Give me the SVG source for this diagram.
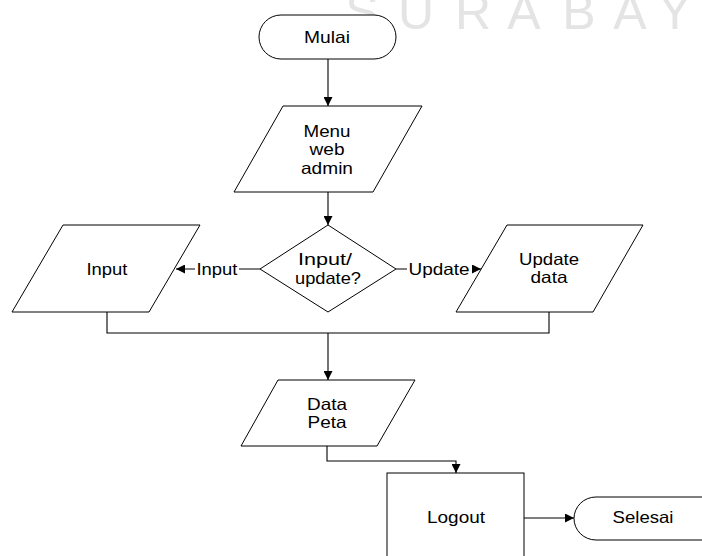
<svg xmlns="http://www.w3.org/2000/svg" width="702" height="556" viewBox="0 0 702 556">
  <defs>
    <marker id="arrow" viewBox="0 0 10 10" refX="10" refY="5" markerWidth="9" markerHeight="9" markerUnits="userSpaceOnUse" orient="auto">
      <path d="M0,0 L10,5 L0,10 Z" fill="#000"/>
    </marker>
    <style>
      .shape { fill: #fff; stroke: #000; stroke-width: 1; }
      .lbl { font-family: "Liberation Sans", Arial, sans-serif; font-size: 16.5px; fill: #000; text-anchor: middle; }
      .edge { fill: none; stroke: #000; stroke-width: 1.1; }
      .wm { font-family: "Liberation Sans", Arial, sans-serif; font-size: 50px; fill: #e4e4e4; text-anchor: middle; }
    </style>
  </defs>

  <rect width="702" height="556" fill="#fff"/>

  <!-- watermark lettering across the top -->
  <g id="watermark">
    <text class="wm" x="362" y="29">S</text>
    <text class="wm" x="416" y="29">U</text>
    <text class="wm" x="473" y="29">R</text>
    <text class="wm" x="524" y="29">A</text>
    <text class="wm" x="579" y="29">B</text>
    <text class="wm" x="630" y="29">A</text>
    <text class="wm" x="675" y="29">Y</text>
  </g>

  <!-- connectors -->
  <g id="connectors">
    <line class="edge" x1="328" y1="59" x2="328" y2="106" marker-end="url(#arrow)"/>
    <line class="edge" x1="328" y1="192" x2="328" y2="225" marker-end="url(#arrow)"/>
    <line class="edge" x1="260" y1="269" x2="176" y2="269" marker-end="url(#arrow)"/>
    <line class="edge" x1="396" y1="269" x2="481" y2="269" marker-end="url(#arrow)"/>
    <polyline class="edge" points="107,312 107,333 549,333 549,312"/>
    <line class="edge" x1="328" y1="333" x2="328" y2="380" marker-end="url(#arrow)"/>
    <polyline class="edge" points="327,446 327,461 456,461 456,473" marker-end="url(#arrow)"/>
    <line class="edge" x1="524" y1="518" x2="574" y2="518" marker-end="url(#arrow)"/>
    <!-- edge labels -->
    <rect x="195" y="260" width="44" height="19" fill="#fff"/>
    <text class="lbl" x="217" y="275" textLength="41" lengthAdjust="spacingAndGlyphs">Input</text>
    <rect x="407" y="260" width="65" height="19" fill="#fff"/>
    <text class="lbl" x="439" y="275" textLength="61" lengthAdjust="spacingAndGlyphs">Update</text>
  </g>

  <g id="mulai">
    <rect class="shape" x="259" y="15" width="137" height="44" rx="22" ry="22"/>
    <text class="lbl" x="327" y="43" textLength="46" lengthAdjust="spacingAndGlyphs">Mulai</text>
  </g>

  <g id="menu">
    <polygon class="shape" points="283,106 422,106 373,192 234,192"/>
    <text class="lbl" x="327" y="137" textLength="47" lengthAdjust="spacingAndGlyphs">Menu</text>
    <text class="lbl" x="327" y="155" textLength="35" lengthAdjust="spacingAndGlyphs">web</text>
    <text class="lbl" x="327" y="174" textLength="52" lengthAdjust="spacingAndGlyphs">admin</text>
  </g>

  <g id="decision">
    <polygon class="shape" points="328,225 396,269 328,312 260,269"/>
    <text class="lbl" x="325" y="265" textLength="54" lengthAdjust="spacingAndGlyphs">Input/</text>
    <text class="lbl" x="328" y="284" textLength="66" lengthAdjust="spacingAndGlyphs">update?</text>
  </g>

  <g id="input">
    <polygon class="shape" points="63,225 200,225 149,312 12,312"/>
    <text class="lbl" x="107" y="275" textLength="41" lengthAdjust="spacingAndGlyphs">Input</text>
  </g>

  <g id="update-data">
    <polygon class="shape" points="507,225 643,225 593,312 456,312"/>
    <text class="lbl" x="549" y="265" textLength="60" lengthAdjust="spacingAndGlyphs">Update</text>
    <text class="lbl" x="549" y="283" textLength="37" lengthAdjust="spacingAndGlyphs">data</text>
  </g>

  <g id="data-peta">
    <polygon class="shape" points="278,380 415,380 377,446 241,446"/>
    <text class="lbl" x="327" y="410" textLength="40" lengthAdjust="spacingAndGlyphs">Data</text>
    <text class="lbl" x="327" y="428" textLength="39" lengthAdjust="spacingAndGlyphs">Peta</text>
  </g>

  <g id="logout">
    <rect class="shape" x="387" y="473" width="137" height="100"/>
    <text class="lbl" x="456" y="523" textLength="58" lengthAdjust="spacingAndGlyphs">Logout</text>
  </g>

  <g id="selesai">
    <rect class="shape" x="574" y="497" width="150" height="43" rx="22" ry="22"/>
    <text class="lbl" x="643" y="523" textLength="61" lengthAdjust="spacingAndGlyphs">Selesai</text>
  </g>
</svg>
